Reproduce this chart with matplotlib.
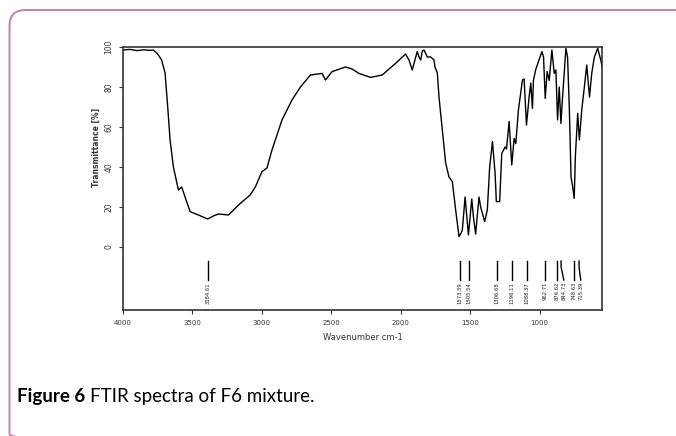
import numpy as np
import matplotlib.pyplot as plt
from matplotlib.patches import FancyBboxPatch

# Spectrum (wavenumber cm-1, transmittance %)
wavenumber = [4000, 3950, 3900, 3850, 3800, 3782, 3750, 3722, 3697, 3678, 3661,
              3637, 3601, 3577, 3553, 3517, 3457, 3390, 3350, 3312, 3240, 3168,
              3084, 3047, 2999, 2963, 2927, 2855, 2783, 2722, 2650, 2600, 2566,
              2542, 2494, 2398, 2350, 2301, 2217, 2133, 2037, 1965, 1940, 1917,
              1881, 1868, 1856, 1844, 1832, 1808, 1784, 1760, 1753, 1736, 1724,
              1700, 1676, 1652, 1628, 1604, 1580, 1565, 1556, 1536, 1512, 1488,
              1476, 1460, 1436, 1424, 1395, 1376, 1359, 1339, 1320, 1311, 1287,
              1272, 1248, 1238, 1219, 1200, 1183, 1171, 1152, 1123, 1111, 1094,
              1075, 1063, 1051, 1044, 1027, 983, 971, 959, 945, 930, 911, 894,
              882, 870, 858, 846, 834, 810, 798, 785, 773, 761, 750, 742, 725,
              713, 696, 677, 660, 640, 624, 605, 581, 556, 550]
transmittance = [98.5, 98.8, 98.2, 98.6, 98.3, 98.5, 96.5, 93.5, 87, 70, 53.5,
                 40, 28.5, 30, 25, 17.7, 16, 14, 15.5, 16.5, 16, 21,
                 26, 30, 37.7, 39.5, 48.5, 63.5, 73.5, 80, 86, 86.5, 86.8,
                 83.5, 87.7, 90, 89, 86.8, 84.8, 86, 91.8, 96.5, 93.5, 88.5,
                 97.7, 95, 93.5, 98, 98.5, 95, 95, 93.5, 90, 87, 75,
                 58.5, 42, 35, 32.7, 18.5, 5.2, 7, 8.5, 25, 6, 24,
                 15, 6.5, 25, 20, 12.7, 18.5, 40, 52.7, 36.8, 22.7, 22.7,
                 46.8, 50, 49, 62.7, 41, 54.3, 51.7, 68.5, 83.5, 84, 61,
                 75, 82, 69.3, 83.3, 88.8, 97.7, 95, 74.3, 87.7, 83.3, 98.5, 86.8,
                 88.5, 63.5, 80, 61.8, 75, 99.3, 95, 68.5, 35, 30, 24.3, 45, 66.8,
                 53.5, 68.5, 80, 91, 75, 86.8, 95, 99.3, 92.7, 90]

# Peak picks and where their labels sit
peak_wn = [3384.61, 1573.39, 1505.54, 1306.68, 1196.11, 1088.37,
           962.71, 876.62, 844.73, 748.63, 715.39]
peak_label_wn = [3384.61, 1573.39, 1505.54, 1306.68, 1196.11, 1088.37,
                 962.71, 876.62, 825.0, 748.63, 703.0]

xticks = [4000, 3500, 3000, 2500, 2000, 1500, 1000]
yticks = [0, 20, 40, 60, 80, 100]

W, H = 676, 436
fig = plt.figure(figsize=(W / 100, H / 100), dpi=100)

# Page frame and caption
bg = fig.add_axes([0, 0, 1, 1])
bg.set_xlim(0, W)
bg.set_ylim(H, 0)
bg.axis('off')
frame = FancyBboxPatch((9.5, 10), 700, 440, boxstyle='round,pad=0,rounding_size=16',
                       fill=False, edgecolor='#c47fa9', linewidth=1.4)
bg.add_patch(frame)
t1 = bg.text(17, 396, 'Figure 6', fontsize=13.5, fontweight='bold', family='Lato',
             va='center', ha='left')
fig.canvas.draw()
x_end = t1.get_window_extent().x1
bg.text(x_end + 5, 396, 'FTIR spectra of F6 mixture.', fontsize=13.5, family='Lato',
        va='center', ha='left')

# Spectrum
ax = fig.add_axes([123 / W, 1 - 310 / H, (602 - 123) / W, (310 - 47) / H])
ax.plot(wavenumber, transmittance, color='black', linewidth=1.0)

# Peak markers
for wn, lw in zip(peak_wn, peak_label_wn):
    if wn == lw:
        ax.plot([wn, wn], [-7, -16.5], color='black', linewidth=1)
    else:
        ax.plot([wn, wn, lw], [-7, -10, -16.5], color='black', linewidth=1)
    ax.text(lw, -17.5, '{:.2f}'.format(wn), rotation=90, fontsize=3.8,
            ha='center', va='top', color='#222222')

ax.set_xlim(4000, 550)
ax.set_ylim(-31.5, 100)
ax.set_xticks(xticks)
ax.set_xticklabels([str(v) for v in xticks], fontsize=5)
ax.set_yticks(yticks)
ax.set_yticklabels([str(v) for v in yticks], fontsize=5.5, rotation=90, va='center')
ax.tick_params(length=3, width=0.8, colors='#333333', pad=4)
for s in ax.spines.values():
    s.set_linewidth(1.2)
    s.set_color('#333333')

ax.set_xlabel('Wavenumber cm-1', fontsize=6, labelpad=5, color='#333333')
ax.text(-0.055, 50, 'Transmittance [%]', rotation=90, fontsize=5.5,
        fontweight='bold', ha='center', va='center', color='#333333',
        transform=ax.get_yaxis_transform())

plt.savefig('out.png', dpi=100)
